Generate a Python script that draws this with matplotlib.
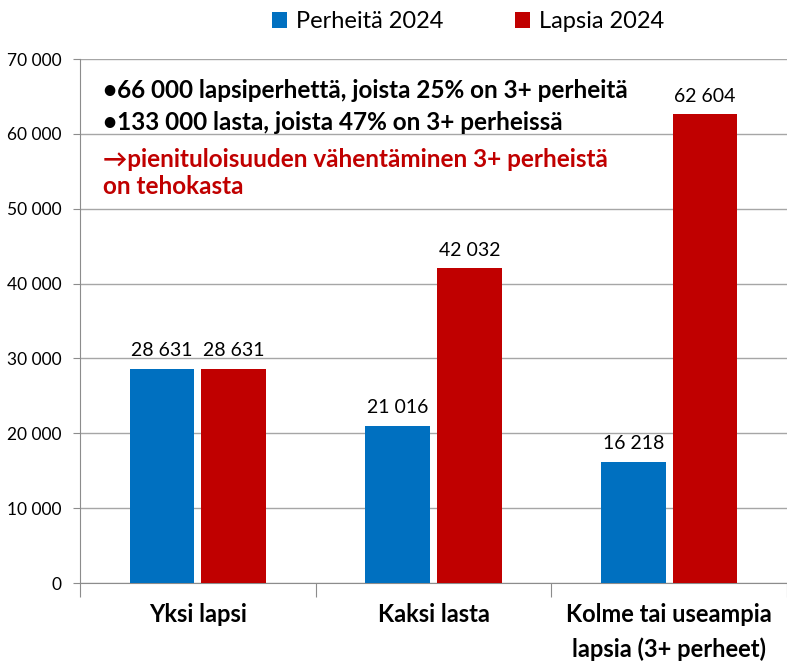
import numpy as np
import matplotlib.pyplot as plt
from matplotlib.ticker import FuncFormatter

plt.rcParams['font.family'] = ['Lato', 'DejaVu Sans']

categories = ['Yksi lapsi', 'Kaksi lasta', 'Kolme tai useampia\nlapsia (3+ perheet)']
perheita = [28631, 21016, 16218]
lapsia = [28631, 42032, 62604]
series_names = ['Perheitä 2024', 'Lapsia 2024']
notes = ['•66 000 lapsiperhettä, joista 25% on 3+ perheitä',
         '•133 000 lasta, joista 47% on 3+ perheissä',
         '→pienituloisuuden vähentäminen 3+ perheistä\non tehokasta']

blue = '#0070C0'
red = '#C00000'
grey = '#8C8C8C'

fig = plt.figure(figsize=(7.87, 6.64), dpi=100)
ax = fig.add_axes([80 / 787, 1 - 583 / 664, 707 / 787, 524 / 664])

x = np.arange(len(categories))
w = 0.275
off = 0.152
b1 = ax.bar(x - off, perheita, w, color=blue, label=series_names[0], zorder=3)
b2 = ax.bar(x + off, lapsia, w, color=red, label=series_names[1], zorder=3)

fmt = lambda v: f'{v:,.0f}'.replace(',', ' ')
for bars in (b1, b2):
    for r in bars:
        ax.annotate(fmt(r.get_height()), (r.get_x() + r.get_width() / 2, r.get_height()),
                    xytext=(0, 7), textcoords='offset points', ha='center', va='bottom',
                    fontsize=14)

ax.set_ylim(0, 70000)
ax.set_xlim(-0.5, 2.5)
ax.set_yticks(range(0, 70001, 10000))
ax.yaxis.set_major_formatter(FuncFormatter(lambda v, p: fmt(v)))
ax.tick_params(axis='y', labelsize=12.5, length=5, color=grey, pad=8)
ax.grid(axis='y', color='#A6A6A6', linewidth=1, zorder=0)

ax.set_xticks([-0.5, 0.5, 1.5, 2.5])
ax.set_xticklabels([])
ax.tick_params(axis='x', length=10, color=grey)
for i, c in enumerate(categories):
    ax.text(i, -2700, c, ha='center', va='top', fontsize=17, fontweight='bold',
            linespacing=1.55)

for s in ['top', 'right']:
    ax.spines[s].set_visible(False)
for s in ['left', 'bottom']:
    ax.spines[s].set_color(grey)

ax.text(0.032, 0.94, notes[0], transform=ax.transAxes, fontsize=17.5, fontweight='bold', va='center')
ax.text(0.032, 0.879, notes[1], transform=ax.transAxes, fontsize=17.5, fontweight='bold', va='center')
ax.text(0.032, 0.782, notes[2], transform=ax.transAxes, fontsize=17.5, fontweight='bold', va='center',
        color=red, linespacing=1.2)

fig.legend(handles=[b1, b2], loc='center', bbox_to_anchor=(468 / 787, 1 - 22 / 664), ncol=2,
           frameon=False, fontsize=17, handlelength=0.65, handleheight=0.65, columnspacing=3.0,
           handletextpad=0.4)

fig.savefig('out.png', dpi=100)
